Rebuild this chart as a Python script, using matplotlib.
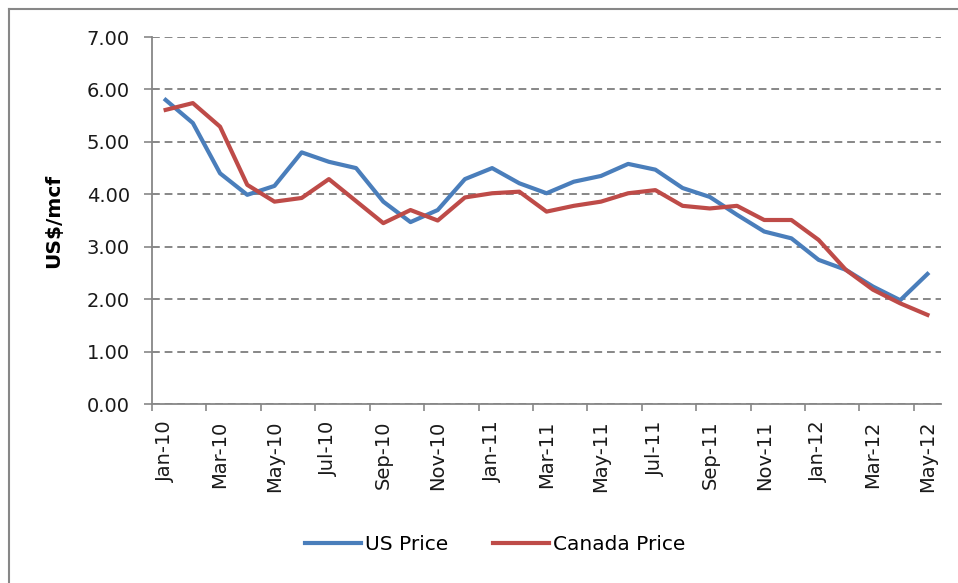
#!/usr/bin/env python3
"""US vs Canada natural gas price, Jan-10 to May-12."""

import matplotlib

matplotlib.use("Agg")
import matplotlib.pyplot as plt
from matplotlib.lines import Line2D

MONTHS = [
    "Jan-10", "Feb-10", "Mar-10", "Apr-10", "May-10", "Jun-10", "Jul-10",
    "Aug-10", "Sep-10", "Oct-10", "Nov-10", "Dec-10", "Jan-11", "Feb-11",
    "Mar-11", "Apr-11", "May-11", "Jun-11", "Jul-11", "Aug-11", "Sep-11",
    "Oct-11", "Nov-11", "Dec-11", "Jan-12", "Feb-12", "Mar-12", "Apr-12",
    "May-12",
]
US_PRICE = [
    5.80, 5.36, 4.40, 3.99, 4.16, 4.80, 4.62, 4.50, 3.86, 3.47,
    3.70, 4.29, 4.50, 4.21, 4.02, 4.24, 4.35, 4.58, 4.47, 4.12,
    3.95, 3.61, 3.29, 3.16, 2.75, 2.56, 2.24, 1.98, 2.48,
]
CANADA_PRICE = [
    5.61, 5.74, 5.29, 4.18, 3.86, 3.93, 4.29, 3.87, 3.45, 3.70,
    3.50, 3.94, 4.02, 4.05, 3.67, 3.78, 3.86, 4.02, 4.08, 3.78,
    3.73, 3.78, 3.51, 3.51, 3.13, 2.56, 2.18, 1.92, 1.70,
]
Y_TICKS = [0, 1, 2, 3, 4, 5, 6, 7]

BLUE = "#4a7ebb"
RED = "#be4b48"
GREY = "#878787"


def main() -> None:
    plt.rcParams["font.family"] = ["DejaVu Sans"]
    fig = plt.figure(figsize=(9.58, 5.83), dpi=100)
    ax = fig.add_axes([0.1587, 0.307, 0.8236, 0.6295])

    x = list(range(len(MONTHS)))
    ax.plot(x, US_PRICE, color=BLUE, lw=3, solid_joinstyle="round", zorder=3)
    ax.plot(x, CANADA_PRICE, color=RED, lw=3, solid_joinstyle="round", zorder=3)

    ax.set_xlim(-0.5, len(MONTHS) - 0.5)
    ax.set_ylim(0, 7)
    ax.set_yticks(Y_TICKS)
    ax.set_yticklabels([f"{v:.2f}" for v in Y_TICKS], fontsize=14, color="#1a1a1a")
    ax.tick_params(axis="y", length=6, width=1.2, color=GREY, pad=10)

    ax.set_xticks(x[::2])
    ax.set_xticklabels(MONTHS[::2], rotation=90, fontsize=14, color="#1a1a1a")
    ax.tick_params(axis="x", which="major", length=0, pad=12)
    ax.set_xticks([i - 0.5 for i in range(0, len(MONTHS), 2)], minor=True)
    ax.tick_params(axis="x", which="minor", length=5, width=1.2, color=GREY)

    ax.grid(axis="y", color=GREY, linestyle=(0, (4, 2.5)), linewidth=1.4)
    ax.set_axisbelow(True)
    for side in ("top", "right"):
        ax.spines[side].set_visible(False)
    for side in ("left", "bottom"):
        ax.spines[side].set_color(GREY)
        ax.spines[side].set_linewidth(1.3)

    ax.set_ylabel("US$/mcf", fontsize=14.5, fontweight="bold")
    ax.yaxis.set_label_coords(-0.113, 0.5)

    handles = [
        Line2D([], [], color=BLUE, lw=3),
        Line2D([], [], color=RED, lw=3),
    ]
    fig.legend(
        handles,
        ["US Price", "Canada Price"],
        loc="center",
        bbox_to_anchor=(495 / 958, 1 - 545 / 583),
        ncol=2,
        frameon=False,
        fontsize=14.5,
        handlelength=2.8,
        handletextpad=0.2,
        columnspacing=2.2,
    )

    # chart frame (only left and top edges visible in the crop)
    fig.add_artist(Line2D([9 / 958, 9 / 958], [0, 1 - 9 / 583], color=GREY, lw=1.5))
    fig.add_artist(Line2D([9 / 958, 1], [1 - 9 / 583, 1 - 9 / 583], color=GREY, lw=1.5))

    fig.savefig("out.png", dpi=100)
    plt.close(fig)


if __name__ == "__main__":
    main()
